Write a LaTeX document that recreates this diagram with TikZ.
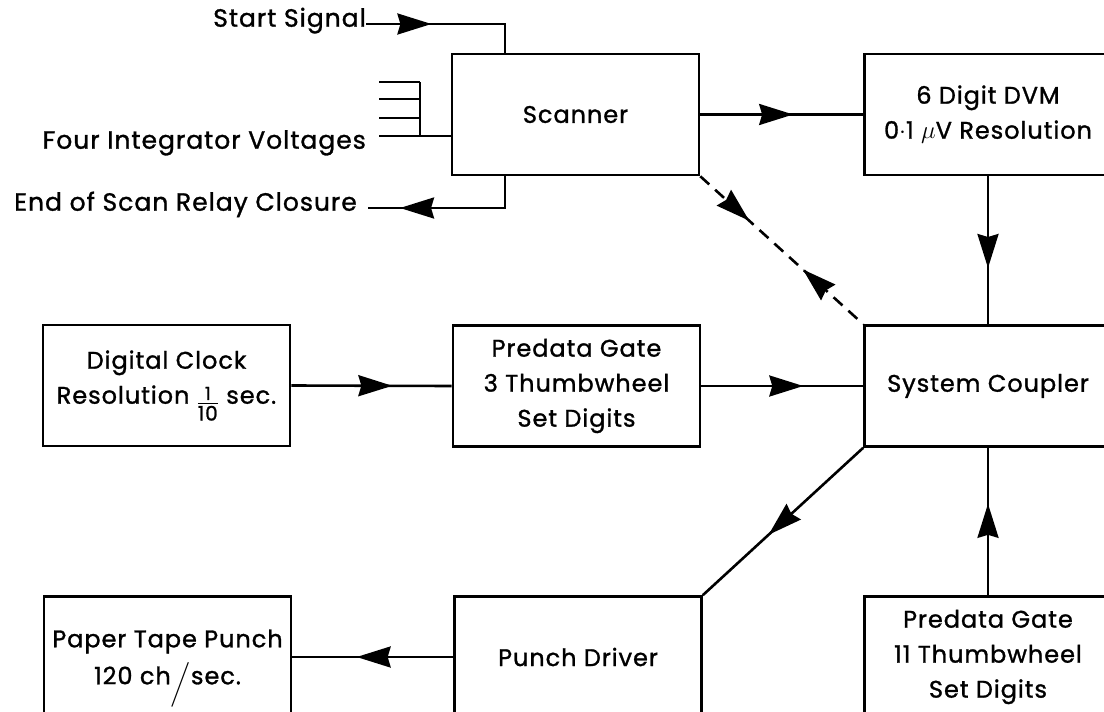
\documentclass[tikz,border=0pt]{standalone}
\usepackage{amsmath}
\usepackage{fontspec}
\setmainfont{Poppins}[LetterSpace=4, FakeBold=1.2]
\usetikzlibrary{arrows.meta,positioning,decorations.markings}

\begin{document}
\begin{tikzpicture}[
    x=1pt, y=-1pt,
    unit/.style={draw, line width=2.6pt, minimum width=247pt, minimum height=121pt, align=center, inner sep=0pt, font=\fontsize{24}{35}\selectfont},
    lbl/.style={inner sep=0pt, font=\fontsize{25}{30}\selectfont},
    wire/.style={line width=2.6pt},
    head/.style={postaction={decorate, decoration={markings, mark=at position #1 with {\arrow{Stealth[length=34pt,width=21pt,inset=3pt]}}}}},
    backhead/.style={postaction={decorate, decoration={markings, mark=at position #1 with {\arrowreversed{Stealth[length=34pt,width=21pt,inset=3pt]}}}}}
]
\useasboundingbox (0,0) rectangle (1104,712);
\clip (0,0) rectangle (1104,712);

% blocks
\node[unit] (scanner) at (575.5,114.5) {Scanner};
\node[unit] (dvm) at (988,114.5) {6 Digit DVM\\0$\cdot$1 $\mu$V Resolution};
\node[unit] (clock) at (166.5,385.5) {Digital Clock\\Resolution \raisebox{-6pt}{$\genfrac{}{}{1.6pt}{1}{\mbox{\fontsize{18}{18}\selectfont 1}}{\mbox{\fontsize{20}{20}\selectfont 10}}$} sec.};
\node[unit] (pred3) at (576.5,386) {Predata Gate\\3 Thumbwheel\\Set Digits};
\node[unit] (coupler) at (988,386) {System Coupler};
\node[unit] (tape) at (167.5,657) {Paper Tape Punch\\[2pt]120 ch\smash{\raisebox{-7pt}{$\Big/$}}sec.};
\node[unit] (driver) at (578,657) {Punch Driver};
\node[unit] (pred11) at (988,657) {Predata Gate\\11 Thumbwheel\\Set Digits};

% scanner inputs and outputs
\node[lbl, anchor=mid east] (start) at (366,24) {Start Signal};
\node[lbl, anchor=mid east] (volts) at (366,146) {Four Integrator Voltages};
\node[lbl, anchor=mid east] (eos) at (357,208) {End of Scan Relay Closure};

\draw[wire, head=0.39] (start.mid east) -| ([xshift=-70.5pt]scanner.north);
\draw[wire, head=0.81] ([xshift=-70.5pt]scanner.south) |- ([xshift=11pt]eos.mid east);

\coordinate (bus) at (420,82);
\coordinate (tap) at (379,136);
\foreach \y in {82,99,118} \draw[wire] (379,\y) -- (bus |- 0,\y);
\draw[wire] (bus) -- (bus |- tap);
\draw[wire] (tap) -- (tap -| scanner.west);

% data paths
\draw[wire, head=0.57] (scanner.east) -- (dvm.west);
\draw[wire, head=0.62] (dvm.south) -- (coupler.north);
\draw[wire, dash pattern=on 12pt off 8pt, head=0.3, backhead=0.63] (scanner.south east) -- (coupler.north west);
\draw[wire, head=0.63] (clock.east) -- (pred3.west);
\draw[wire, head=0.63] (pred3.east) -- (coupler.west);
\draw[wire, head=0.59] (coupler.south west) -- (driver.north east);
\draw[wire, head=0.62] (pred11.north) -- (coupler.south);
\draw[wire, head=0.6] (driver.west) -- (tape.east);
\end{tikzpicture}
\end{document}
